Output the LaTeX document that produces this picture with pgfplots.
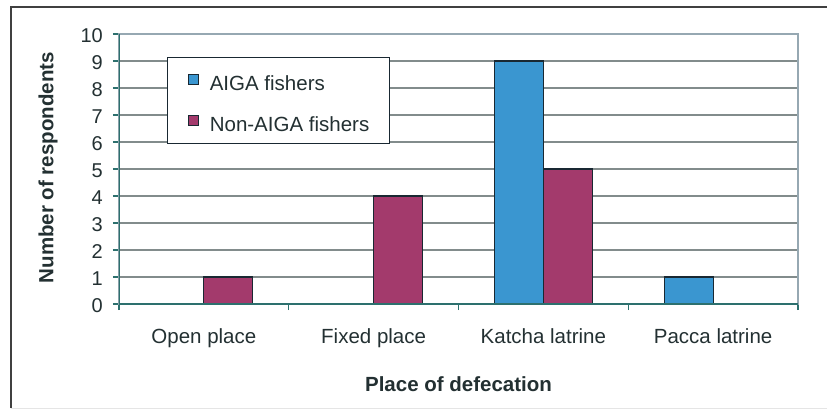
\documentclass[border=0pt]{standalone}
\usepackage{pgfplots}
\pgfplotsset{compat=1.18}
\usepackage{fontspec}
\setmainfont{Liberation Sans}

\definecolor{aigablue}{RGB}{58,150,208}
\definecolor{nonaiga}{RGB}{163,58,108}
\definecolor{barline}{RGB}{25,40,50}
\definecolor{axisteal}{RGB}{45,112,110}
\definecolor{gridgray}{RGB}{130,140,140}
\definecolor{boxgray}{RGB}{150,168,178}
\definecolor{txt}{RGB}{35,48,50}

% small square legend key
\pgfplotsset{sqlegend/.style={legend image code/.code={\draw[##1] (0pt,-4pt) rectangle (10pt,6pt);}}}

\begin{document}
\begin{tikzpicture}
\begin{axis}[
  at={(0pt,0pt)}, anchor=south west,
  scale only axis, width=679pt, height=270pt,
  xmin=-0.5, xmax=3.5, ymin=0, ymax=10,
  /pgf/number format/assume math mode=true,
  % category boundaries carry the tick marks
  xtick={-0.5,0.5,1.5,2.5,3.5},
  xticklabels={,,,,},
  % category names sit at the group centres
  extra x ticks={0,1,2,3},
  extra x tick labels={Open place, Fixed place, Katcha latrine, Pacca latrine},
  extra x tick style={major tick length=0pt},
  ytick={0,1,...,10},
  xtick pos=bottom, ytick pos=left,
  tick align=outside,
  major tick length=6pt,
  tick style={axisteal, line width=1.2pt},
  ymajorgrids,
  grid style={gridgray, line width=1.3pt},
  axis line style={boxgray, line width=1.2pt},
  xticklabel style={txt, font=\fontsize{20.5}{24}\selectfont, anchor=north,
    inner sep=0pt, text height=15pt, text depth=4pt, yshift=-24pt},
  yticklabel style={txt, font=\fontsize{20}{24}\selectfont, anchor=east,
    inner sep=0pt, xshift=-10pt, yshift=-2pt},
  xlabel={Place of defecation},
  ylabel={Number of respondents},
  xlabel style={txt, font=\bfseries\fontsize{20.5}{24}\selectfont,
    at={(axis description cs:0.5,0)}, anchor=center, yshift=-80.5pt},
  ylabel style={txt, font=\bfseries\fontsize{20.5}{24}\selectfont,
    at={(axis description cs:-0.1046,0.505)}, anchor=center, rotate=0},
  legend style={at={(rel axis cs:0.0707,0.9145)}, anchor=north west,
    draw=barline, line width=1.2pt, fill=white,
    inner xsep=20pt, inner ysep=3pt, column sep=11pt, row sep=2pt,
    font=\fontsize{20.5}{24}\selectfont, text=txt,
    nodes={inner sep=0pt, text height=30pt, text depth=9pt}},
  legend cell align=left,
]
\addplot[ybar, bar width=49pt, bar shift=-24.5pt, fill=aigablue, draw=barline,
  line width=1.2pt, sqlegend]
  coordinates {(2,9) (3,1)};
\addplot[ybar, bar width=49pt, bar shift=24.5pt, fill=nonaiga, draw=barline,
  line width=1.2pt, sqlegend]
  coordinates {(0,1) (1,4) (2,5)};
\legend{AIGA fishers, Non-AIGA fishers}
% left and bottom axis lines in teal
\draw[axisteal, line width=1.6pt] (rel axis cs:0,1) -- (rel axis cs:0,0) -- (rel axis cs:1,0);
\end{axis}
% outer chart frame
\draw[gray!20] (-108pt,-104pt) -- (708pt,-104pt);
\draw[black!75, line width=1.3pt] (-108pt,-104pt) -- (-108pt,297pt) -- (708pt,297pt);
\pgfresetboundingbox
\path (-119pt,-109pt) rectangle (708pt,304pt);
\end{tikzpicture}
\end{document}
